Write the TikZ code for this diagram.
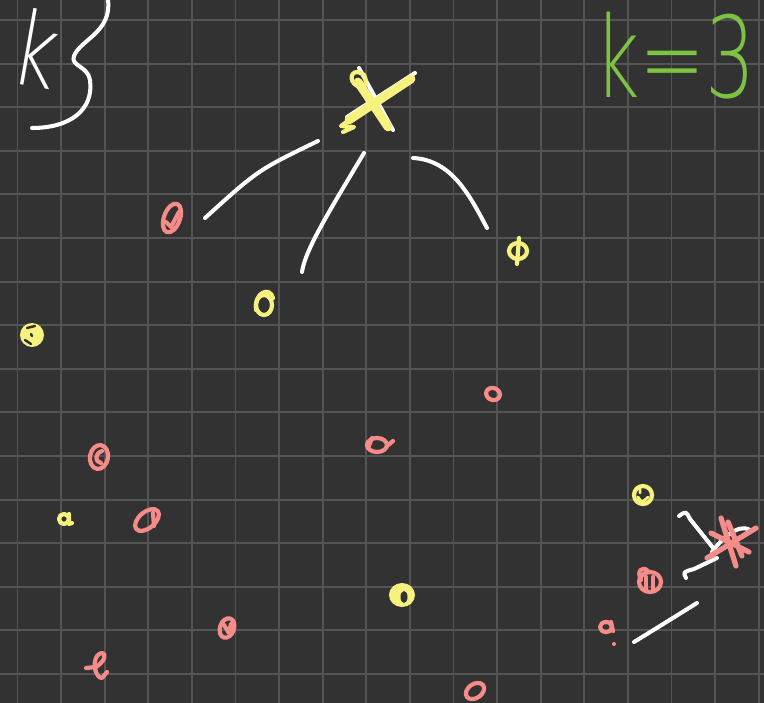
\documentclass[tikz,border=0pt]{standalone}
\usepackage{fontspec}
\newfontfamily\handfont{DejaVu Sans ExtraLight}
\usetikzlibrary{calc}
\definecolor{board}{HTML}{323232}
\definecolor{gridgray}{HTML}{545454}
\definecolor{chalkyellow}{HTML}{F7F27E}
\definecolor{chalkpink}{HTML}{F58C8A}
\definecolor{chalkgreen}{HTML}{7DC243}

\begin{document}
\begin{tikzpicture}[x=0.02cm, y=-0.02cm, line cap=round, line join=round,
    gridline/.style={gridgray, line width=1.1pt},
    whitestroke/.style={white, line width=2.3pt},
    yellowstroke/.style={chalkyellow, line width=2.4pt},
    pinkstroke/.style={chalkpink, line width=2.4pt},
    handtext/.style={inner sep=0pt, anchor=base west, font=\handfont\fontsize{64}{64}\selectfont}]
    \pgfmathsetmacro{\gap}{43.6}

    \useasboundingbox (0,0) rectangle (764,703);
    \clip (0,0) rectangle (764,703);
    \fill[board] (0,0) rectangle (764,703);
    \foreach \i in {0,...,17}
        \draw[gridline] (17.5+\i*\gap,0) -- (17.5+\i*\gap,703);
    \foreach \j in {0,...,15}
        \draw[gridline] (0,20+\j*\gap) -- (764,20+\j*\gap);

    % labels
    \node[handtext, white, rotate=-10, font=\handfont\fontsize{58}{58}\selectfont] (kname) at (8,82) {\scalebox{0.75}[1]{k}};
    \draw[whitestroke] (32,128) .. controls (70,128) and (94,110) .. (90,80)
        .. controls (88,66) and (70,66) .. (74,56)
        .. controls (80,40) and (112,32) .. (108,0);
    \node[handtext, chalkgreen] (kvalue) at (594,97) {\scalebox{0.7}[1]{k=3}};

    % yellow centre
    \coordinate (C1) at (372,100);
    \draw[whitestroke] (359,68) -- (393,130);
    \draw[whitestroke] (415,73) -- (347,117);
    \draw[yellowstroke, line width=5pt] (358,82) -- (388,127) (411,79) -- (349,120);
    \draw[yellowstroke] (362,88) .. controls (348,84) and (350,72) .. (357,72) .. controls (365,74) .. (366,84);
    \draw[yellowstroke] (352,118) -- (341,126) -- (354,127) -- (343,132);

    \draw[whitestroke] (318,141) .. controls (258,170) .. (205,218);
    \draw[whitestroke] (364,153) .. controls (330,210) and (305,250) .. (302,272);
    \draw[whitestroke] (413,158) .. controls (452,160) and (470,196) .. (487,228);

    % pink centre
    \coordinate (C2) at (729,542);
    \draw[whitestroke] (679,516) .. controls (686,511) .. (690,519) -- (714,549);
    \draw[whitestroke] (686,578) .. controls (683,572) .. (694,569) -- (717,558);
    \draw[whitestroke] (634,642) .. controls (660,626) .. (697,603);
    \draw[whitestroke] (712,552) .. controls (728,530) and (744,524) .. (751,531);
    \draw[pinkstroke, line width=3pt] (721,518) -- (736,566) (756,528) -- (707,558)
        (711,533) -- (749,552) (728,522) -- (742,556);

    % yellow points
    \coordinate (Y1) at (264,305);
    \coordinate (Y2) at (518,251);
    \coordinate (Y3) at (32,335);
    \coordinate (Y4) at (402,595);
    \coordinate (Y5) at (643,495);
    \coordinate (Y6) at (64,519);

    \draw[yellowstroke] (Y1) circle [x radius=8, y radius=10];
    \draw[yellowstroke] (256,310) .. controls (254,292) and (270,286) .. (273,298);
    \draw[yellowstroke] (Y2) circle [x radius=9, y radius=8];
    \draw[yellowstroke] (519,238) -- (517,264);
    \fill[chalkyellow] (Y3) circle [radius=12];
    \draw[board, line width=1.4pt] (27,328) -- (35,326) (25,340) -- (31,344) (31,334) -- (32,336);
    \fill[chalkyellow] (Y4) circle [x radius=13, y radius=12];
    \fill[board] (404,597) circle [x radius=3.5, y radius=6];
    \draw[yellowstroke] (Y5) circle [radius=9];
    \draw[yellowstroke, line width=1.6pt] (638,497) .. controls (642,503) .. (648,497) (640,489) -- (640,493);
    \draw[yellowstroke] (Y6) circle [radius=5];
    \draw[yellowstroke] (69,514) -- (69,524) -- (72,523);

    % pink points
    \coordinate (P1) at (172,218);
    \coordinate (P2) at (99,457);
    \coordinate (P3) at (147,520);
    \coordinate (P4) at (377,445);
    \coordinate (P5) at (493,394);
    \coordinate (P6) at (227,628);
    \coordinate (P7) at (475,691);
    \coordinate (P8) at (650,582);
    \coordinate (P9) at (606,627);

    \draw[pinkstroke] (P1) circle [x radius=8, y radius=15, rotate=-20];
    \draw[pinkstroke] (166,222) -- (171,227) -- (179,212);
    \draw[pinkstroke] (P2) circle [x radius=9, y radius=12, rotate=-10];
    \draw[pinkstroke] (102,451) .. controls (94,454) and (95,462) .. (101,463);
    \draw[pinkstroke] (P3) circle [x radius=14, y radius=8, rotate=40];
    \draw[pinkstroke] (153,513) -- (154,526);
    \draw[pinkstroke] (P4) circle [x radius=10, y radius=7];
    \draw[pinkstroke] (387,446) -- (393,441) (372,438) -- (368,448);
    \draw[pinkstroke] (P5) circle [x radius=7, y radius=6, rotate=-20];
    \draw[pinkstroke] (P6) circle [x radius=7, y radius=10, rotate=-20];
    \draw[pinkstroke] (224,625) -- (229,633) -- (231,624);
    \draw[pinkstroke] (P7) circle [x radius=10, y radius=7, rotate=35];
    \draw[pinkstroke] (P8) circle [x radius=11, y radius=10];
    \draw[pinkstroke] (646,577) -- (646,589) (653,577) -- (653,589);
    \draw[pinkstroke] (641,580) .. controls (636,570) and (643,566) .. (648,571);
    \draw[pinkstroke] (P9) circle [x radius=6, y radius=5];
    \draw[pinkstroke] (611,622) -- (613,631);
    \fill[chalkpink] (614,644) circle [radius=2];
    \draw[pinkstroke] (86,668) -- (96,667) .. controls (110,658) and (104,648) .. (97,656)
        .. controls (92,664) and (96,678) .. (102,678) -- (107,672);
\end{tikzpicture}
\end{document}
